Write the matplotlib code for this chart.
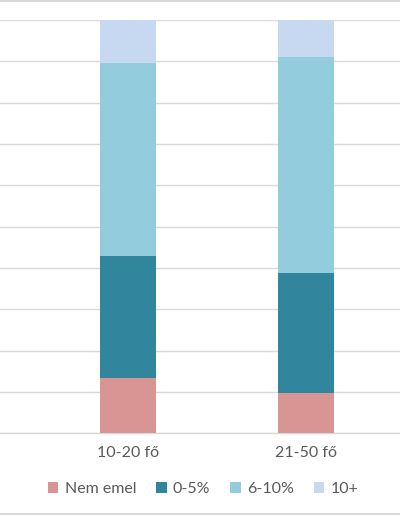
import matplotlib.pyplot as plt
from matplotlib.lines import Line2D
import numpy as np

# ── DATA ─────────────────────────────────────────────────────────────────────
categories = ['10-20 fő', '21-50 fő']
series = ['Nem emel', '0-5%', '6-10%', '10+']
nem_emel = [13.3, 9.8]
p0_5 = [29.6, 29.1]
p6_10 = [46.7, 52.2]
p10_plus = [10.4, 8.9]

COLORS = ['#D99594', '#31859C', '#93CDDD', '#C6D9F1']
GRID = '#D9D9D9'
TEXT = '#595959'

plt.rcParams['font.family'] = ['Lato', 'DejaVu Sans']

fig = plt.figure(figsize=(4.0, 5.16), dpi=100)
fig.patch.set_facecolor('white')
ax = fig.add_axes([0, 82.7 / 516, 1, 413.3 / 516])

x = np.arange(len(categories))
bottom = np.zeros(len(categories))
for name, vals, col in zip(series, [nem_emel, p0_5, p6_10, p10_plus], COLORS):
    vals = np.array(vals)
    ax.bar(x, vals, bottom=bottom, width=0.314, color=col, label=name,
           zorder=3)
    bottom += vals

ax.set_xlim(-0.717, 1.524)
ax.set_ylim(0, 100)
ax.set_yticks(np.arange(0, 101, 10))
ax.set_yticklabels([])
ax.tick_params(axis='y', length=0)
ax.grid(axis='y', color=GRID, linewidth=1.0, zorder=0)

ax.set_xticks(x)
ax.set_xticklabels(categories, fontsize=11.5, color=TEXT)
ax.tick_params(axis='x', length=0, pad=9)

for s in ['top', 'right', 'left']:
    ax.spines[s].set_visible(False)
ax.spines['bottom'].set_color(GRID)
ax.spines['bottom'].set_linewidth(1.0)

fig.legend(loc='center', bbox_to_anchor=(0.508, 1 - 489 / 516), ncol=4,
           frameon=False, fontsize=11.5, handlelength=0.65, handleheight=0.65,
           handletextpad=0.4, columnspacing=1.25, labelcolor=TEXT)

# thin frame lines top and bottom
fig.add_artist(Line2D([0, 1], [1 - 1 / 516, 1 - 1 / 516], color=GRID,
                      linewidth=1.5, transform=fig.transFigure))
fig.add_artist(Line2D([0, 1], [1 - 513.5 / 516, 1 - 513.5 / 516], color=GRID,
                      linewidth=1.5, transform=fig.transFigure))

fig.savefig('out.png', dpi=100, facecolor='white')
